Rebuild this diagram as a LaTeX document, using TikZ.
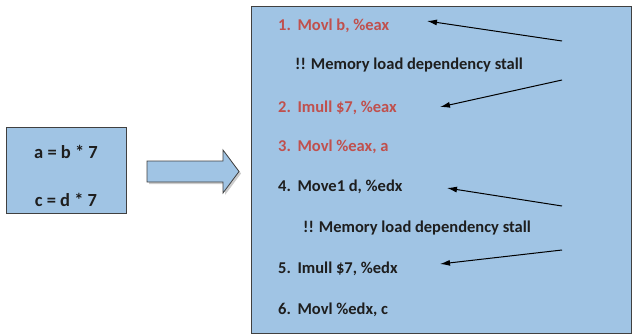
\documentclass[tikz,border=0pt]{standalone}
\usepackage{fontspec}
\setmainfont{Carlito}
\usetikzlibrary{arrows.meta,shadows}
\definecolor{boxblue}{RGB}{160,196,228}
\definecolor{codered}{RGB}{192,80,77}
\definecolor{inkgray}{RGB}{30,30,30}
\begin{document}
\begin{tikzpicture}[x=1pt,y=-1pt,
    panel/.style={draw=black!75,fill=boxblue,line width=0.8pt},
    expr/.style={font=\bfseries\fontsize{18.5}{20}\selectfont,text=inkgray},
    instr/.style={anchor=west,inner sep=0,font=\bfseries\fontsize{16.5}{18}\selectfont,text=inkgray},
    redinstr/.style={instr,text=codered},
    pointer/.style={-{Latex[length=10pt,width=6pt]},line width=1pt}
]
\useasboundingbox (0,0) rectangle (632,335);

% Source code box
\node[panel,minimum width=120,minimum height=86] (src) at (66,170) {};
\node[expr] (eqa) at (66,152) {a = b * 7};
\node[expr] (eqc) at (66,200) {c = d * 7};

% Translation arrow
\draw[panel,drop shadow={opacity=0.4,shadow xshift=2pt,shadow yshift=-2pt}]
  (147,161) -- (223,161) -- (223,150) -- (239,171.5) -- (223,193) -- (223,182) -- (147,182) -- cycle;

% Assembly box
\node[panel,anchor=north west,minimum width=380,minimum height=327] (asm) at (251,6) {};

% Instructions
\node[redinstr] (i1) at (278,26) {1.\hspace{0.4em}Movl b, \%eax};
\node[instr] (s1) at (295,65) {!! Memory load dependency stall};
\node[redinstr] (i2) at (278,108) {2.\hspace{0.4em}Imull \$7, \%eax};
\node[redinstr] (i3) at (278,147) {3.\hspace{0.4em}Movl \%eax, a};
\node[instr] (i4) at (278,187) {4.\hspace{0.4em}Move1 d, \%edx};
\node[instr] (s2) at (303,228) {!! Memory load dependency stall};
\node[instr] (i5) at (278,269) {5.\hspace{0.4em}Imull \$7, \%edx};
\node[instr] (i6) at (278,310) {6.\hspace{0.4em}Movl \%edx, c};

% Pointer ends
\coordinate (p1) at (562,41);  \coordinate (q1) at (427,21);
\coordinate (p2) at (562,80);  \coordinate (q2) at (440,107);
\coordinate (p3) at (562,206); \coordinate (q3) at (447,188);
\coordinate (p4) at (562,250); \coordinate (q4) at (440,264);

% Pointers
\draw[pointer] (p1) -- (q1);
\draw[pointer] (p2) -- (q2);
\draw[pointer] (p3) -- (q3);
\draw[pointer] (p4) -- (q4);

\end{tikzpicture}
\end{document}
